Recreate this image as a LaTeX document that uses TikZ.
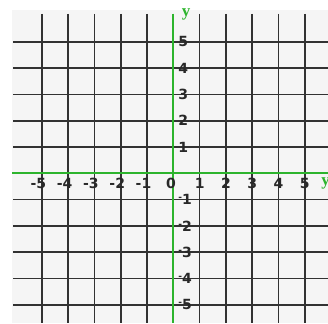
\documentclass[tikz,border=0pt]{standalone}
\usepackage{fontspec}
\setmainfont{DejaVu Sans}
\newfontfamily\serify{Liberation Serif}
\usepackage{tikz}

\definecolor{axisgreen}{RGB}{45,180,45}
\definecolor{paper}{RGB}{245,245,245}
\definecolor{gridline}{RGB}{50,50,50}

\tikzset{
  numlabel/.style={font=\bfseries\fontsize{14}{14}\selectfont,text=gridline!80!black,inner sep=0pt},
  axislabel/.style={font=\serify\bfseries\fontsize{17}{17}\selectfont,text=axisgreen,inner sep=0pt}
}

\begin{document}
\begin{tikzpicture}[x=26.3pt,y=26.3pt]
\useasboundingbox (-6.59,-5.69) rectangle (5.88,6.59);
\fill[white] (-6.59,-5.69) rectangle (5.88,6.59);
\fill[paper] (-6.13,-5.69) rectangle (5.88,6.21);
% grid
\foreach \k in {-5,...,5}{
  \draw[gridline,line width=1.7pt] (\k,6.06) -- (\k,-5.69);
}
\foreach \k in {-5,...,-1,1,2,3,4,5}{
  \draw[gridline,line width=1.7pt] (-6.08,\k) -- (5.88,\k);
}
% axes
\draw[axisgreen,line width=2.2pt] (-6.13,0) -- (5.88,0);
\draw[axisgreen,line width=2.2pt] (0,6.06) -- (0,-5.69);
\node[axislabel] (ylab) at (0.49,6.04) {y};
\node[axislabel,anchor=west] (xlab) at (5.62,-0.37) {y};
% numbers
\foreach \k in {1,...,5}{
  \node[numlabel] (xp\k) at (\k,-0.37) {\k};
  \node[numlabel,anchor=east] (xn\k) at (-\k+0.17,-0.37) {-\k};
  \node[numlabel,anchor=west] (yp\k) at (0.18,\k) {\k};
  \node[numlabel,anchor=west] (yn\k) at (0.18,-\k) {\raisebox{4pt}{\fontsize{9}{9}\selectfont -}\k};
}
\node[numlabel] (orig) at (-0.09,-0.37) {0};
\end{tikzpicture}
\end{document}
